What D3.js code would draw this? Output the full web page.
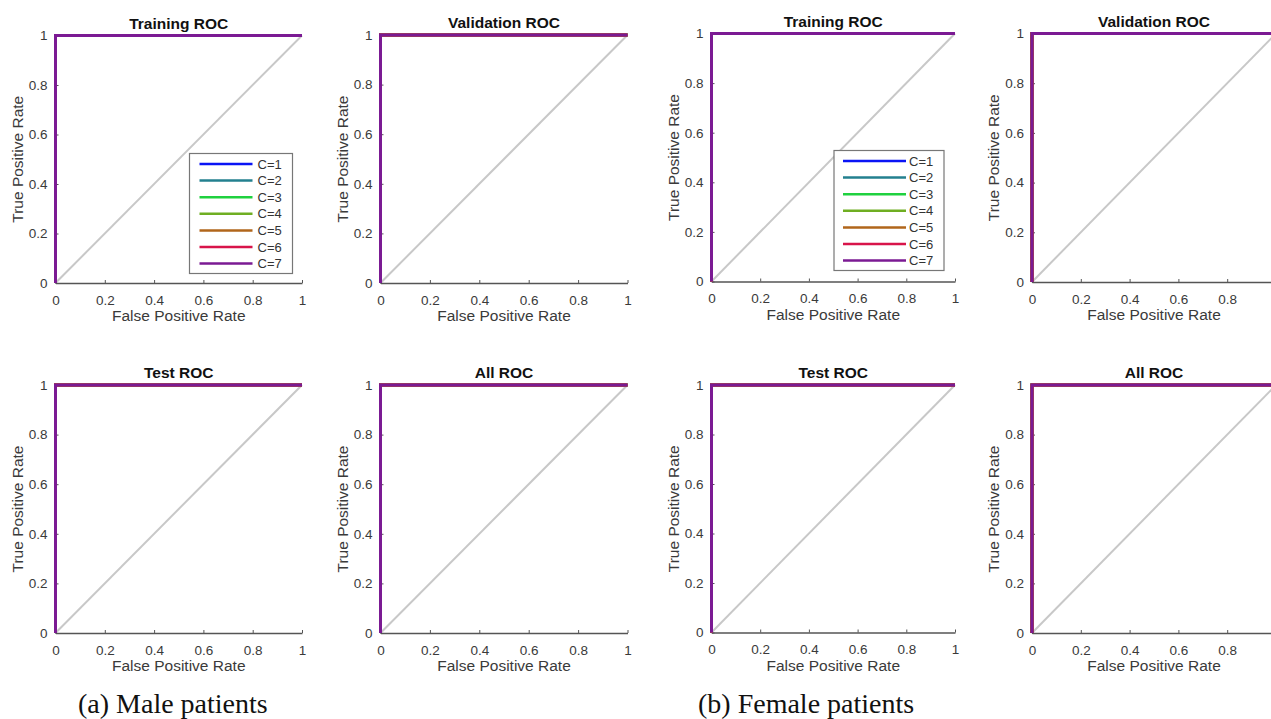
<!DOCTYPE html>
<html>
<head>
<meta charset="utf-8">
<script src="https://cdn.jsdelivr.net/npm/d3@7"></script>
<style>
  html, body { margin: 0; padding: 0; background: #fff; }
  svg { display: block; }
</style>
</head>
<body>
<svg id="chart" width="1271" height="719"></svg>
<script>
// ---------- data ----------
const classLabels = ["C=1", "C=2", "C=3", "C=4", "C=5", "C=6", "C=7"];
const classColors = ["#0a14f5", "#23808f", "#1fd13f", "#6fae22", "#b1661b", "#d8144a", "#7b1a93"];
// ROC curves (identical perfect classifiers for every class in every subset)
const rocFPR = [0, 0, 1];
const rocTPR = [0, 1, 1];
const diagFPR = [0, 1];
const diagTPR = [0, 1];
const tickValues = [0, 0.2, 0.4, 0.6, 0.8, 1];
const tickLabels = ["0", "0.2", "0.4", "0.6", "0.8", "1"];
const panelTitles = ["Training ROC", "Validation ROC", "Test ROC", "All ROC"];
const groupCaptions = ["(a) Male patients", "(b) Female patients"];

// ---------- layout ----------
const svg = d3.select("#chart");
const panels = [
  { g: 0, t: 0, x0: 55.5,  x1: 302,   yTop: 35.5, yBot: 283, legend: { dx: 134, dy: 118, w: 103, lx1: 10, lx2: 63, tx: 68 } },
  { g: 0, t: 1, x0: 380.5, x1: 627.5, yTop: 35,   yBot: 283 },
  { g: 1, t: 0, x0: 711.5, x1: 955,   yTop: 33.5, yBot: 281.5, legend: { dx: 122.5, dy: 117, w: 110, lx1: 9, lx2: 72, tx: 75 } },
  { g: 1, t: 1, x0: 1032,  x1: 1276,  yTop: 33.5, yBot: 282 },
  { g: 0, t: 2, x0: 55.5,  x1: 302,   yTop: 385,  yBot: 633 },
  { g: 0, t: 3, x0: 380.5, x1: 627.5, yTop: 385,  yBot: 633 },
  { g: 1, t: 2, x0: 711.5, x1: 955,   yTop: 385,  yBot: 632.5 },
  { g: 1, t: 3, x0: 1032,  x1: 1276,  yTop: 385,  yBot: 633 }
];

const textColor = "#3a3a3a";
const axisColor = "#555";
const font = "'Liberation Sans', Arial, sans-serif";

panels.forEach(p => {
  const x = d3.scaleLinear().domain([0, 1]).range([p.x0, p.x1]);
  const y = d3.scaleLinear().domain([0, 1]).range([p.yBot, p.yTop]);
  const g = svg.append("g");

  // diagonal
  const line = d3.line().x(d => x(d[0])).y(d => y(d[1]));
  g.append("path")
    .datum(d3.zip(diagFPR, diagTPR))
    .attr("d", line)
    .attr("fill", "none")
    .attr("stroke", "#c8c8c8")
    .attr("stroke-width", 2);

  // axes
  const xAxis = d3.axisBottom(x).tickValues(tickValues)
    .tickFormat((d, i) => tickLabels[i]).tickSizeInner(-3).tickSizeOuter(0).tickPadding(12);
  const yAxis = d3.axisLeft(y).tickValues(tickValues)
    .tickFormat((d, i) => tickLabels[i]).tickSizeInner(-3).tickSizeOuter(0).tickPadding(8);

  const gx = g.append("g").attr("transform", `translate(0,${p.yBot})`).call(xAxis);
  const gy = g.append("g").attr("transform", `translate(${p.x0},0)`).call(yAxis);
  [gx, gy].forEach(a => {
    a.select(".domain").attr("stroke", axisColor).attr("stroke-width", 1.5);
    a.selectAll(".tick line").attr("stroke", axisColor).attr("stroke-width", 1);
    a.selectAll(".tick text").attr("fill", textColor)
      .style("font-family", font).style("font-size", "13.5px");
  });

  // ROC curves for every class; last one ends on top
  classLabels.forEach((c, i) => {
    g.append("path")
      .datum(d3.zip(rocFPR, rocTPR))
      .attr("d", line)
      .attr("fill", "none")
      .attr("stroke", classColors[i])
      .attr("stroke-width", 3)
      .attr("stroke-linejoin", "miter");
  });

  // title
  g.append("text")
    .attr("x", (p.x0 + p.x1) / 2)
    .attr("y", p.yTop - 7)
    .attr("text-anchor", "middle")
    .style("font-family", font)
    .style("font-size", "15.5px")
    .style("font-weight", "bold")
    .attr("fill", "#111")
    .text(panelTitles[p.t]);

  // axis labels
  g.append("text")
    .attr("x", (p.x0 + p.x1) / 2)
    .attr("y", p.yBot + 38)
    .attr("text-anchor", "middle")
    .style("font-family", font)
    .style("font-size", "15.5px")
    .attr("fill", textColor)
    .text("False Positive Rate");

  g.append("text")
    .attr("transform", `translate(${p.x0 - 33},${(p.yTop + p.yBot) / 2}) rotate(-90)`)
    .attr("text-anchor", "middle")
    .style("font-family", font)
    .style("font-size", "15.5px")
    .attr("fill", textColor)
    .text("True Positive Rate");

  // legend
  if (p.legend) {
    const L = p.legend;
    const bh = 120;
    const lg = g.append("g").attr("transform", `translate(${p.x0 + L.dx},${p.yTop + L.dy})`);
    lg.append("rect").attr("width", L.w).attr("height", bh)
      .attr("fill", "#fff").attr("stroke", "#777").attr("stroke-width", 1.2);
    classLabels.forEach((c, i) => {
      const yy = 10.5 + i * 16.6;
      lg.append("line")
        .attr("x1", L.lx1).attr("x2", L.lx2)
        .attr("y1", yy).attr("y2", yy)
        .attr("stroke", classColors[i]).attr("stroke-width", 2.5);
      lg.append("text")
        .attr("x", L.tx).attr("y", yy + 4.5)
        .style("font-family", font).style("font-size", "13px")
        .attr("fill", "#333")
        .text(c);
    });
  }
});

// captions
const capX = [78, 698];
groupCaptions.forEach((c, i) => {
  svg.append("text")
    .attr("x", capX[i]).attr("y", 713)
    .style("font-family", "'Liberation Serif', 'Times New Roman', serif")
    .style("font-size", "28px")
    .attr("fill", "#111")
    .text(c);
});
</script>
</body>
</html>
